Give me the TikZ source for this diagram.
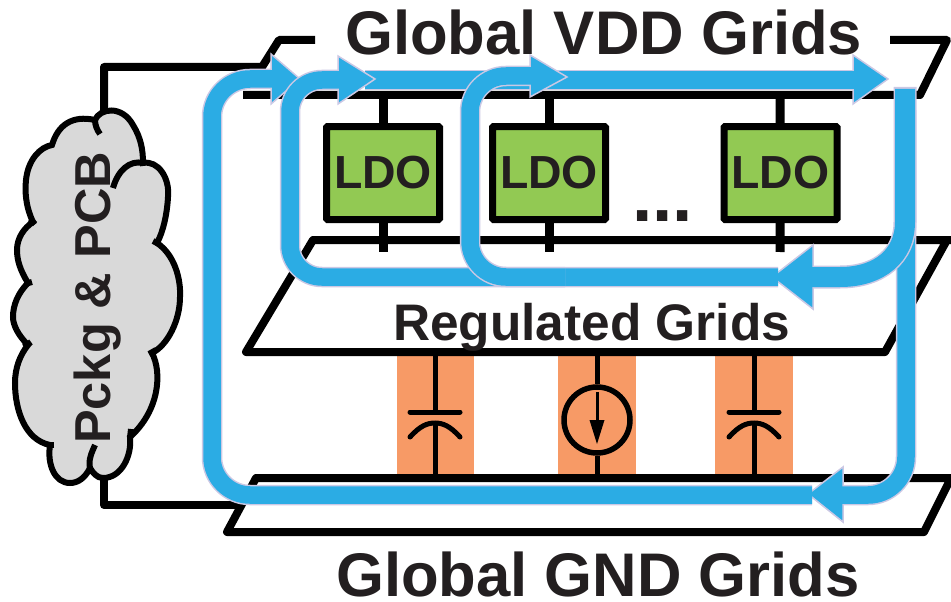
\documentclass[tikz,border=0pt]{standalone}
\usepackage{fontspec}
\setmainfont{Liberation Sans}
\definecolor{flowblue}{HTML}{2BACE4}
\definecolor{flowlav}{HTML}{CBC8E4}
\definecolor{ldogreen}{HTML}{92C953}
\definecolor{barorange}{HTML}{F79A66}
\definecolor{cloudgrey}{HTML}{D9D9D9}
\definecolor{inkdark}{HTML}{231F20}
\newcommand{\fsz}[1]{\fontsize{#1}{#1}\selectfont\bfseries}
\tikzset{
  gridline/.style={draw=black,line width=8pt,line join=round},
  stem/.style={draw=black,line width=9pt},
  thinwire/.style={draw=black,line width=5pt},
  plate/.style={draw=black,line width=5pt,line cap=round},
  ldobox/.style={draw=black,fill=ldogreen,line width=7pt,rounded corners=1pt,minimum width=113pt,minimum height=93pt,inner sep=0pt,text=inkdark,font=\fsz{46.4}},
  bar/.style={fill=barorange,minimum width=77.5pt,minimum height=127pt,inner sep=0pt},
  label/.style={text=inkdark,inner sep=0pt,anchor=base west},
  flowedge/.style={draw=flowlav,line width=20.5pt},
  flowcore/.style={draw=flowblue,line width=17.5pt},
  trunkedge/.style={draw=flowlav,line width=23pt},
  trunkcore/.style={draw=flowblue,line width=20pt},
  flowhead/.style={fill=flowblue,draw=flowlav,line width=1.5pt,line join=miter},
}
\begin{document}
\begin{tikzpicture}[x=1pt,y=-1pt]
\useasboundingbox (0,0) rectangle (951,602);
% orange bars
\node[bar] (b1) at (435.5,411.5) {};
\node[bar] (b2) at (597,411.5) {};
\node[bar] (b3) at (754,411.5) {};
% global VDD grid
\draw[gridline] (315,40) -- (279,40) -- (262,67) -- (104,67) -- (104,120);
\draw[gridline] (890,40) -- (947,40) -- (920,95) -- (243,95);
% regulated grid
\draw[gridline] (951,240) -- (313,240) -- (246,352) -- (885,352) -- (947,240);
% global GND grid
\draw[gridline] (104,470) -- (104,505) -- (240,505);
\draw[gridline] (951,478) -- (256,478) -- (227,532) -- (924,532) -- cycle;
% LDOs
\coordinate (t1) at (383,95); \coordinate (t2) at (549,95); \coordinate (t3) at (780,95);
\coordinate (r1) at (383,252); \coordinate (r2) at (549,252); \coordinate (r3) at (780,252);
\node[ldobox] (ldo1) at (383,173) {\raisebox{-1.5pt}{LDO}};
\node[ldobox] (ldo2) at (549,173) {\raisebox{-1.5pt}{LDO}};
\node[ldobox] (ldo3) at (780.5,173) {\raisebox{-1.5pt}{LDO}};
\draw[stem] (t1) -- (ldo1); \draw[stem] (ldo1) -- (r1);
\draw[stem] (t2) -- (ldo2); \draw[stem] (ldo2) -- (r2);
\draw[stem] (t3) -- (ldo3); \draw[stem] (ldo3) -- (r3);
\node[label,text=inkdark] (dots) at (632,221) {\fsz{73}...};
% capacitors and current source
\foreach \n/\x in {c1/435,c3/754}{
  \coordinate (\n u) at (\x,352); \coordinate (\n p) at (\x,412);
  \coordinate (\n q) at (\x,423); \coordinate (\n d) at (\x,478);
  \draw[thinwire] (\n u) -- (\n p);
  \draw[thinwire] (\n q) -- (\n d);
  \draw[plate] (\x-25,412) -- (\x+25,412);
  \draw[plate] (\x-25,437) .. controls (\x-15,426) and (\x-8,423) .. (\n q) .. controls (\x+8,423) and (\x+15,426) .. (\x+25,437);
}
\coordinate (su) at (597,352); \coordinate (sd) at (597,478);
\node[circle,draw=black,line width=5.5pt,minimum size=66pt,inner sep=0pt] (isrc) at (597,420) {};
\draw[thinwire] (su) -- (isrc); \draw[thinwire] (isrc) -- (sd);
\draw[thinwire,line width=3pt] (597,392) -- (597,425);
\fill[black] (589.5,420) -- (604.5,420) -- (597,444) -- cycle;
% cloud
\draw[fill=cloudgrey,draw=black,line width=6pt,line join=miter]
  (95,120) .. controls (100,108) and (122,105) .. (133,125)
  .. controls (141,138) and (143,150) .. (143,163)
  .. controls (158,160) and (170,178) .. (168,197)
  .. controls (167,215) and (163,232) .. (157,243)
  .. controls (175,255) and (181,280) .. (180,297)
  .. controls (180,320) and (168,345) .. (152,353)
  .. controls (162,372) and (160,410) .. (130,437)
  .. controls (132,455) and (122,478) .. (103,478)
  .. controls (97,478) and (93,473) .. (90,468)
  .. controls (85,478) and (78,483) .. (70,483)
  .. controls (55,483) and (47,465) .. (50,445)
  .. controls (25,440) and (15,410) .. (15,383)
  .. controls (15,368) and (20,355) .. (28,345)
  .. controls (18,335) and (13,325) .. (13,317)
  .. controls (13,305) and (18,293) .. (28,283)
  .. controls (20,270) and (17,260) .. (17,250)
  .. controls (17,238) and (24,228) .. (33,222)
  .. controls (25,205) and (25,190) .. (26,180)
  .. controls (28,160) and (40,147) .. (52,145)
  .. controls (58,125) and (72,115) .. (95,120) -- cycle;
\draw[black,line width=6pt]
  (113,188) .. controls (118,170) and (130,160) .. (143,163);
\draw[black,line width=6pt] (153,241) -- (159,244);
\draw[black,line width=6pt] (149,354) -- (156,350);
\draw[black,line width=6pt] (131,429) -- (130,438);
\draw[black,line width=6pt] (90,468) .. controls (88,460) and (92,452) .. (95,445);
\draw[black,line width=6pt] (54,445) -- (47,445);
\draw[black,line width=6pt] (31,342) -- (24,347);
\draw[black,line width=6pt] (32,282) -- (25,284);
\draw[black,line width=6pt] (35,224) -- (30,219);
\draw[black,line width=6pt] (95,120) .. controls (95,125) and (97,130) .. (100,134);
\node[rotate=90,anchor=base west,inner sep=0pt,text=inkdark] (cloudtext) at (110,444) {\fsz{50.5}Pckg \& PCB};
% flow A (outer loop)
\coordinate (a0) at (906,110); \coordinate (a1) at (906,495); \coordinate (a2) at (838,495);
\coordinate (a3) at (812,495); \coordinate (a4) at (212,495); \coordinate (a5) at (212,79); \coordinate (a6) at (275,79);
\draw[flowedge,rounded corners=38pt] (a3) -- (a4) -- (a5) -- (a6);
\draw[flowedge,rounded corners=38pt] (a0) -- (a1) -- (a2);
\draw[flowhead] (843,467) -- (808,494) -- (843,522) -- cycle;
\draw[flowhead] (271,54) -- (300,79) -- (271,104) -- cycle;
\draw[flowcore,rounded corners=38pt] (a3) -- (a4) -- (a5) -- (a6);
\draw[flowcore,rounded corners=38pt] (a0) -- (a1) -- (a2);
% top bar and flow B
\coordinate (s0) at (365,80); \coordinate (s1) at (858,80);
\draw[flowedge] (s0) -- (s1);
\draw[flowhead] (853,55) -- (888,79) -- (853,104) -- cycle;
\draw[flowcore] (s0) -- (s1);
\coordinate (k0) at (905,87); \coordinate (k1) at (905,222); \coordinate (k2) at (840,277); \coordinate (k3) at (810,277);
\draw[trunkedge] (k0) -- (k1) .. controls (905,255) and (880,277) .. (k2) -- (k3);
\coordinate (m0) at (778,277); \coordinate (m1) at (290,277); \coordinate (m2) at (290,80); \coordinate (m3) at (343,80);
\draw[flowedge,rounded corners=32pt] (m0) -- (m1) -- (m2) -- (m3);
\draw[flowhead] (813,245) -- (772,277) -- (813,309) -- cycle;
\draw[flowhead] (338,56) -- (375,79) -- (338,104) -- cycle;
\draw[flowcore,rounded corners=32pt] (m0) -- (m1) -- (m2) -- (m3);
\draw[trunkcore] (905,89) -- (k1) .. controls (905,255) and (880,277) .. (k2) -- (k3);
\draw[flowcore] (k3) -- (805,277);
% flow C
\coordinate (c0) at (565,277); \coordinate (c1) at (470,277); \coordinate (c2) at (470,76); \coordinate (c3) at (535,76);
\draw[flowedge,rounded corners=36pt] (c0) -- (c1) -- (c2) -- (c3);
\draw[flowhead] (530,55) -- (567,77) -- (530,97) -- cycle;
\draw[flowcore,rounded corners=36pt] (c0) -- (c1) -- (c2) -- (c3);
% labels
\node[label] (vddlabel) at (345,55) {\fsz{61.6}Global VDD Grids};
\node[label] (reglabel) at (393,340) {\fsz{51.4}Regulated Grids};
\node[label] (gndlabel) at (336,596) {\fsz{61.6}Global GND Grids};
\end{tikzpicture}
\end{document}
